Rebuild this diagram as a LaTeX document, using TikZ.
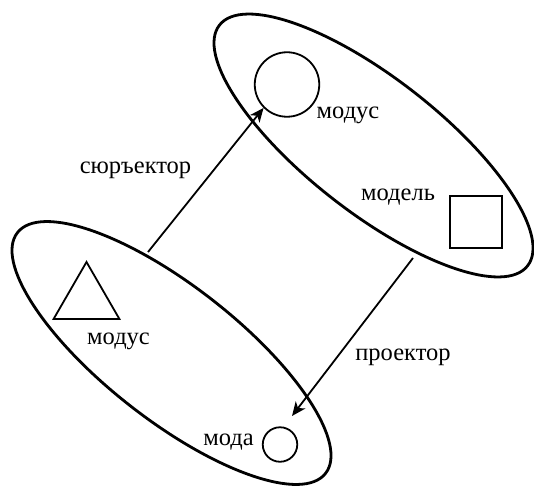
\documentclass[tikz,border=0pt]{standalone}
\usepackage{fontspec}
\setmainfont{Liberation Serif}
\usetikzlibrary{positioning, arrows.meta, shapes.geometric}

\begin{document}
\begin{tikzpicture}[
    x=1pt, y=1pt,
    set/.style={ellipse, draw, line width=2.8pt, minimum width=391pt, minimum height=134pt, inner sep=0pt, rotate=-38},
    elem/.style={draw, line width=1.8pt, inner sep=0pt},
    lbl/.style={font=\fontsize{24.5}{28}\selectfont, inner sep=0pt},
    arr/.style={-{Stealth[length=14pt, width=12pt, inset=4pt]}, line width=1.8pt},
  ]
    \useasboundingbox (0,0) rectangle (534,488);

    % two sets
    \node[set] (upset) at (373.5,342.5) {};
    \node[set] (lowset) at (171.5,135) {};

    % elements of the upper set
    \node[elem, circle, minimum size=64.5pt] (modusC) at (287,403.5) {};
    \node[lbl] (modusCl) at (348,373) {модус};
    \node[elem, rectangle, minimum size=52pt] (model) at (476,266) {};
    \node[lbl, left=14pt of model, yshift=24.5pt] (modell) {модель};

    % elements of the lower set
    \node[elem, regular polygon, regular polygon sides=3, minimum size=76pt] (modusT) at (86.5,188) {};
    \node[lbl] (modusTl) at (118.5,146.5) {модус};
    \node[elem, circle, minimum size=34.5pt] (moda) at (280,43.5) {};
    \node[lbl, left=8pt of moda, yshift=2.5pt] (modal) {мода};

    % maps
    \coordinate (surjStart) at (148,236);
    \coordinate (projStart) at (413,230);
    \coordinate (projEnd) at (292,72);
    \draw[arr] (surjStart) -- (modusC.225);
    \draw[arr] (projStart) -- (projEnd);
    \node[lbl] (surjl) at (135.5,318) {сюръектор};
    \node[lbl] (projl) at (403,131) {проектор};
  \end{tikzpicture}
\end{document}
